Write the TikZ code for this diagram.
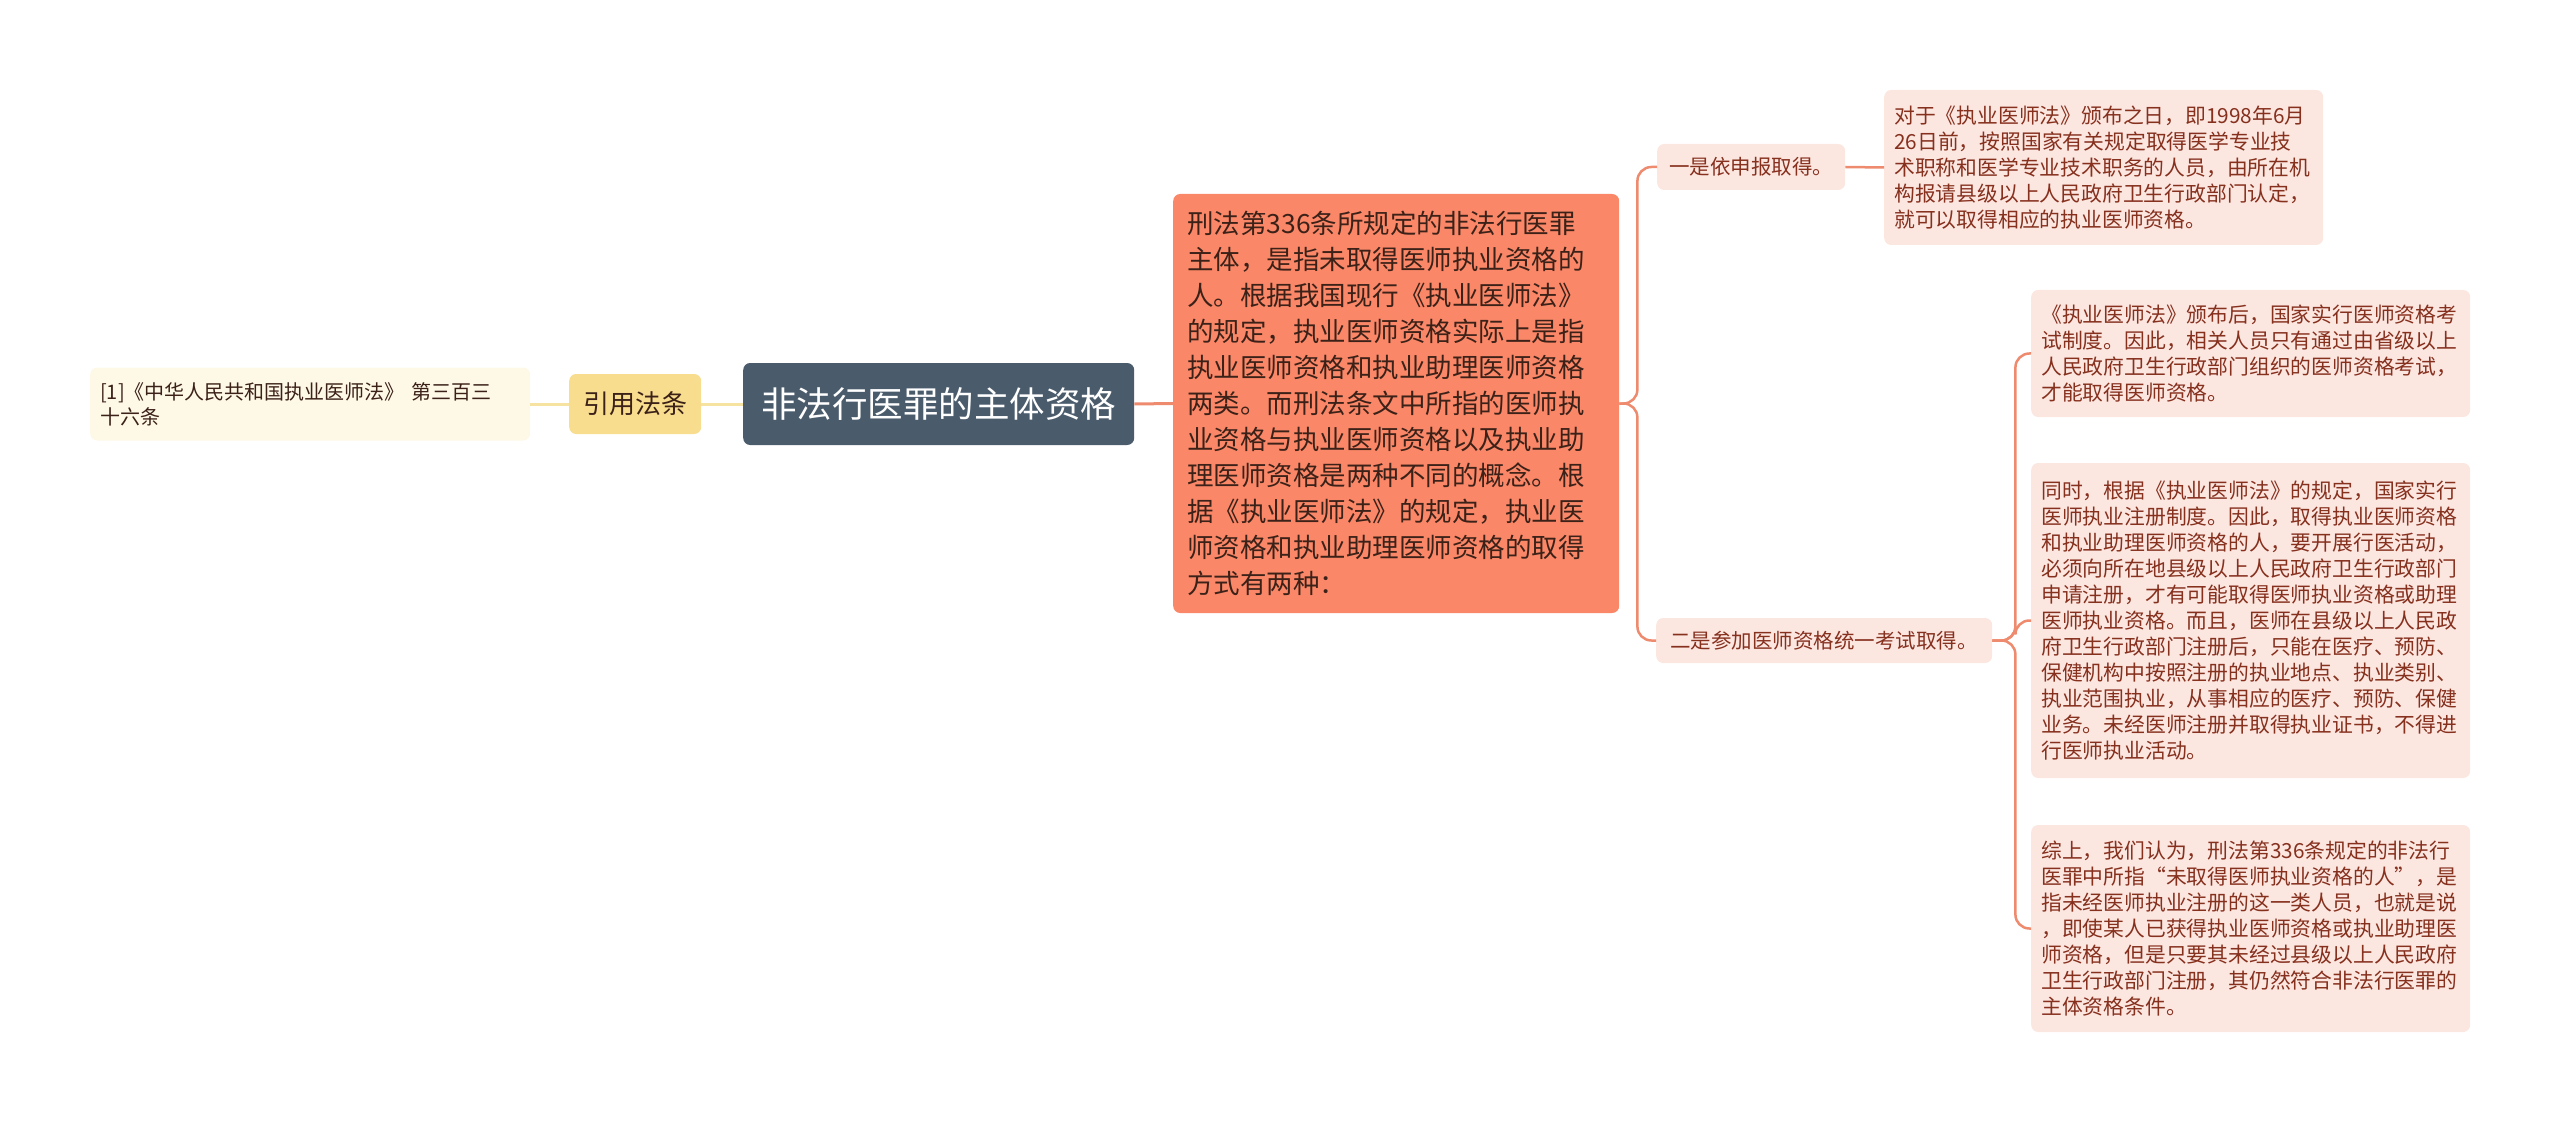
\documentclass[tikz,border=0pt]{standalone}
\usepackage{xcolor}
\usepackage{tikz}
\usepackage{fontspec}
\setmainfont{Noto Sans CJK SC}

\definecolor{raiz}{HTML}{4A5B6C}
\definecolor{naranja}{HTML}{FA8768}
\definecolor{rosa}{HTML}{FCE6E0}
\definecolor{linea}{HTML}{EE8B6F}
\definecolor{oro}{HTML}{F8DD8E}
\definecolor{crema}{HTML}{FEF8E7}
\definecolor{lineaoro}{HTML}{F6E3A2}
\definecolor{texto}{HTML}{86301E}
\definecolor{oscuro}{HTML}{3B2118}

\begin{document}
\begin{tikzpicture}[x=1pt, y=-1pt,
    caja/.style={rounded corners=7pt, anchor=west, inner ysep=0pt},
    hoja/.style={caja, fill=rosa, text=texto, inner xsep=10pt, text width=419pt, align=left, font=\fontsize{20.8}{26}\selectfont},
    rama/.style={caja, fill=rosa, text=texto, align=center, font=\fontsize{20.5}{24}\selectfont},
    conector/.style={linea, line width=2.5pt, rounded corners=14pt}]
    \useasboundingbox (0,0) rectangle (2560,1123);

    % Raiz (centro)
    \node[caja, fill=raiz, text=white, minimum width=391pt, minimum height=82pt, font=\fontsize{35.5}{40}\selectfont] (raiz) at (743,404) {非法行医罪的主体资格};

    % Izquierda (cita)
    \node[caja, fill=oro, text=oscuro, minimum width=132pt, minimum height=60pt, font=\fontsize{26}{30}\selectfont] (ref) at (569,404) {引用法条};
    \node[caja, fill=crema, text=oscuro, inner xsep=10pt, text width=420pt, minimum height=73pt, align=left, font=\fontsize{20}{25}\selectfont] (cita) at (90,404) {[1]《中华人民共和国执业医师法》 第三百三\\十六条};

    % Derecha (definicion)
    \node[caja, fill=naranja, text=oscuro, inner xsep=14pt, text width=418pt, minimum height=419pt, align=left, font=\fontsize{26.5}{36}\selectfont] (def) at (1173,403.5) {刑法第336条所规定的非法行医罪\\主体，是指未取得医师执业资格的\\人。根据我国现行《执业医师法》\\的规定，执业医师资格实际上是指\\执业医师资格和执业助理医师资格\\两类。而刑法条文中所指的医师执\\业资格与执业医师资格以及执业助\\理医师资格是两种不同的概念。根\\据《执业医师法》的规定，执业医\\师资格和执业助理医师资格的取得\\方式有两种：};

    % Ramas
    \node[rama, minimum width=188pt, minimum height=46pt] (via1) at (1657,167) {一是依申报取得。};
    \node[rama, minimum width=336pt, minimum height=45pt] (via2) at (1656,640.5) {二是参加医师资格统一考试取得。};

    % Hojas
    \node[hoja, minimum height=155pt] (hoja1) at (1884,167.5) {对于《执业医师法》颁布之日，即1998年6月\\26日前，按照国家有关规定取得医学专业技\\术职称和医学专业技术职务的人员，由所在机\\构报请县级以上人民政府卫生行政部门认定，\\就可以取得相应的执业医师资格。};
    \node[hoja, minimum height=127pt] (hoja2) at (2031,353.5) {《执业医师法》颁布后，国家实行医师资格考\\试制度。因此，相关人员只有通过由省级以上\\人民政府卫生行政部门组织的医师资格考试，\\才能取得医师资格。};
    \node[hoja, minimum height=315pt] (hoja3) at (2031,620.5) {同时，根据《执业医师法》的规定，国家实行\\医师执业注册制度。因此，取得执业医师资格\\和执业助理医师资格的人，要开展行医活动，\\必须向所在地县级以上人民政府卫生行政部门\\申请注册，才有可能取得医师执业资格或助理\\医师执业资格。而且，医师在县级以上人民政\\府卫生行政部门注册后，只能在医疗、预防、\\保健机构中按照注册的执业地点、执业类别、\\执业范围执业，从事相应的医疗、预防、保健\\业务。未经医师注册并取得执业证书，不得进\\行医师执业活动。};
    \node[hoja, minimum height=207pt] (hoja4) at (2031,928.5) {综上，我们认为，刑法第336条规定的非法行\\医罪中所指“未取得医师执业资格的人”，是\\指未经医师执业注册的这一类人员，也就是说\\，即使某人已获得执业医师资格或执业助理医\\师资格，但是只要其未经过县级以上人民政府\\卫生行政部门注册，其仍然符合非法行医罪的\\主体资格条件。};

    % Conectores
    \draw[lineaoro, line width=3pt] (cita.east) -- (ref.west);
    \draw[lineaoro, line width=3pt] (ref.east) -- (raiz.west);
    \draw[linea, line width=3pt] (raiz.east) -- (def.west);
    \draw[conector] (def.east) -- ++(18,0) |- (via1.west);
    \draw[conector] (def.east) -- ++(18,0) |- (via2.west);
    \draw[conector] (via1.east) -- (hoja1.west);
    \draw[conector] (via2.east) -- ++(23,0) |- (hoja2.west);
    \draw[conector] (via2.east) -- ++(23,0) |- (hoja3.west);
    \draw[conector] (via2.east) -- ++(23,0) |- (hoja4.west);
\end{tikzpicture}
\end{document}
